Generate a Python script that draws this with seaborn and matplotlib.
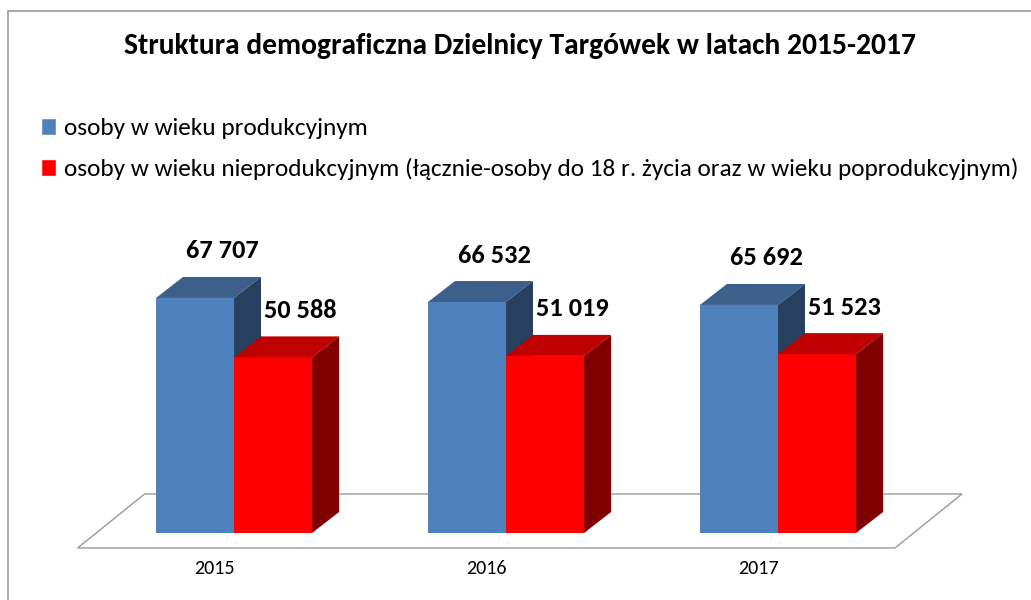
import numpy as np
import pandas as pd
import matplotlib
matplotlib.use("Agg")
import matplotlib.pyplot as plt
import seaborn as sns
from matplotlib.patches import Polygon, Patch
from matplotlib.lines import Line2D

# data
years = ["2015", "2016", "2017"]
produkcyjny = [67707, 66532, 65692]
nieprodukcyjny = [50588, 51019, 51523]
series_names = ["osoby w wieku produkcyjnym",
                "osoby w wieku nieprodukcyjnym (łącznie-osoby do 18 r. życia oraz w wieku poprodukcyjnym)"]
title = "Struktura demograficzna Dzielnicy Targówek w latach 2015-2017"

# colours: front, top, side
front_cols = ["#4F81BD", "#FF0000"]
top_cols = ["#3C608B", "#BE0000"]
side_cols = ["#28405F", "#800000"]

df = pd.DataFrame({
    "rok": years * 2,
    "liczba": produkcyjny + nieprodukcyjny,
    "grupa": [series_names[0]] * 3 + [series_names[1]] * 3,
})

sns.set_style("white")
plt.rcParams["font.family"] = ["Carlito", "Liberation Sans Narrow", "DejaVu Sans"]
plt.rcParams["text.color"] = "black"

fig = plt.figure(figsize=(10.31, 6.0), dpi=100)
ax = fig.add_axes([0.0687, 0.1117, 0.8442, 0.4628])

sns.barplot(data=df, x="rok", y="liczba", hue="grupa", palette=front_cols,
            width=0.574, saturation=1, legend=False, ax=ax)
ax.set_xlim(-0.6, 2.6)
ax.set_ylim(0, 80000)
ax.set_axis_off()

# 3D depth offset in pixels
DX, DY = 27, 21
inv = ax.transData.inverted()


def shifted(x, y, dx=0, dy=0):
    px, py = ax.transData.transform((x, y))
    return inv.transform((px + dx, py + dy))


# floor of the 3D plot
fl = [shifted(-0.575, 0, 0, -15), shifted(2.43, 0, 0, -15),
      shifted(2.43, 0, 67, 39), shifted(-0.575, 0, 67, 39)]
ax.add_patch(Polygon(fl, closed=True, facecolor="white", edgecolor="#9a9a9a",
                     lw=1, zorder=0.5, clip_on=False))

for k, cont in enumerate(ax.containers):
    for bar in cont:
        bar.set_zorder(3 + k)
        bar.set_edgecolor("none")
        x0, w, h = bar.get_x(), bar.get_width(), bar.get_height()
        top = [shifted(x0, h), shifted(x0 + w, h),
               shifted(x0 + w, h, DX, DY), shifted(x0, h, DX, DY)]
        side = [shifted(x0 + w, 0), shifted(x0 + w, h),
                shifted(x0 + w, h, DX, DY), shifted(x0 + w, 0, DX, DY)]
        ax.add_patch(Polygon(top, closed=True, facecolor=top_cols[k],
                             edgecolor="none", zorder=3 + k, clip_on=False))
        ax.add_patch(Polygon(side, closed=True, facecolor=side_cols[k],
                             edgecolor="none", zorder=3 + k, clip_on=False))
        ax.annotate(f"{int(h):,}".replace(",", " "), (x0 + w / 2, h),
                    xytext=(DX, 47), textcoords="offset pixels",
                    ha="center", va="center", fontsize=19,
                    fontweight="bold", color="black", zorder=6)

# category labels
for i, yr in enumerate(years):
    ax.annotate(yr, (i, 0), xytext=(-20, -36), textcoords="offset pixels",
                ha="center", va="center", fontsize=14.5, color="black")

fig.text(0.5045, 1 - 46 / 600, title, ha="center", va="center",
         fontsize=21.3, fontweight="bold", color="black")

handles = [Patch(facecolor=c) for c in front_cols]
fig.legend(handles, series_names, loc="center left",
           bbox_to_anchor=(41 / 1031, 1 - 149 / 600), frameon=False,
           prop={"size": 18.15}, handlelength=0.6, handleheight=0.7,
           handletextpad=0.3, labelspacing=0.75, labelcolor="black",
           borderpad=0, borderaxespad=0)

# chart frame
fig.add_artist(Line2D([8 / 1031, 1], [1 - 11 / 600, 1 - 11 / 600],
                      color="#9a9a9a", lw=1.2, transform=fig.transFigure))
fig.add_artist(Line2D([8 / 1031, 8 / 1031], [0, 1 - 11 / 600],
                      color="#9a9a9a", lw=1.2, transform=fig.transFigure))

fig.savefig("out.png", dpi=100)
